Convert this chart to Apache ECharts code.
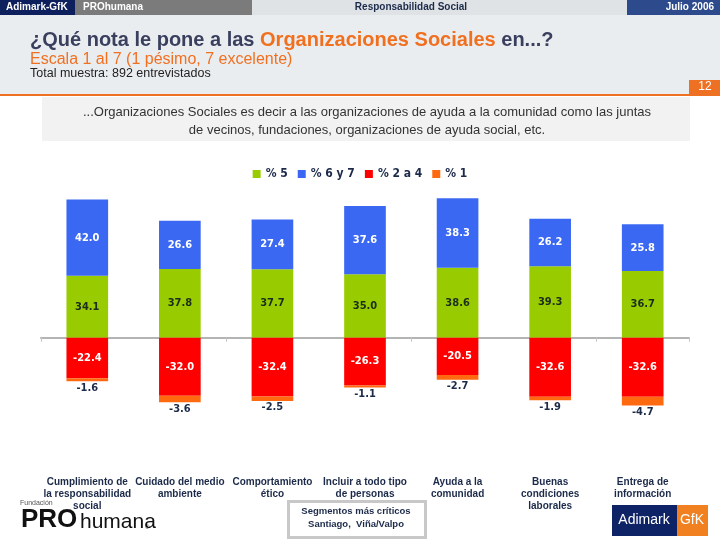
<!DOCTYPE html>
<html>
<head>
<meta charset="utf-8">
<script src="https://cdn.jsdelivr.net/npm/echarts@6/dist/echarts.min.js"></script>
<style>html,body{margin:0;padding:0;background:#fff}#c{width:720px;height:540px}</style>
</head>
<body>
<div id="c"></div>
<script>
var categories = [
  "Cumplimiento de\nla responsabilidad\nsocial",
  "Cuidado del medio\nambiente",
  "Comportamiento\nético",
  "Incluir a todo tipo\nde personas",
  "Ayuda a la\ncomunidad",
  "Buenas\ncondiciones\nlaborales",
  "Entrega de\ninformación"
];
var seriesNames = ["% 5", "% 6 y 7", "% 2 a 4", "% 1"];
var pct5 = [34.1, 37.8, 37.7, 35.0, 38.6, 39.3, 36.7];
var pct6y7 = [42.0, 26.6, 27.4, 37.6, 38.3, 26.2, 25.8];
var pct2a4 = [-22.4, -32.0, -32.4, -26.3, -20.5, -32.6, -32.6];
var pct1 = [-1.6, -3.6, -2.5, -1.1, -2.7, -1.9, -4.7];

var NAVY = '#1c2a4a';
var FONT = 'Liberation Sans, Arial, sans-serif';
var chart = echarts.init(document.getElementById('c'), null, {renderer: 'canvas'});

function lbl(color, pos, dist) {
  return {show: true, position: pos, distance: dist || 0, color: color, fontSize: 11, fontWeight: 'bold',
          fontFamily: 'DejaVu Sans Condensed, DejaVu Sans, sans-serif',
          formatter: function (p) { return p.value.toFixed(1); }};
}

var option = {
  animation: false,
  backgroundColor: '#ffffff',
  textStyle: {fontFamily: FONT},
  legend: {
    data: seriesNames, top: 163, left: 'center', icon: 'rect', itemWidth: 8, itemHeight: 8, itemGap: 10,
    textStyle: {color: NAVY, fontSize: 12, fontWeight: 'bold', fontFamily: 'DejaVu Sans Condensed, DejaVu Sans, sans-serif'}
  },
  grid: {left: 41, width: 648, top: 192.5, height: 217.8, containLabel: false, outerBoundsMode: 'none'},
  xAxis: [{
    type: 'category', data: categories,
    axisLine: {onZero: true, lineStyle: {color: '#b4b4b4', width: 2}},
    axisTick: {show: true, length: 4, lineStyle: {color: '#c4c4c4'}},
    axisLabel: {show: false}
  }, {
    type: 'category', data: categories, position: 'bottom', gridIndex: 0,
    axisLine: {show: false, onZero: false}, axisTick: {show: false},
    axisLabel: {show: true, interval: 0, margin: 66, color: NAVY, fontSize: 10, fontWeight: 'bold', lineHeight: 12,
                fontFamily: FONT, hideOverlap: false}
  }],
  yAxis: {type: 'value', min: -40, max: 80, show: false, splitLine: {show: false}},
  series: [
    {name: seriesNames[0], type: 'bar', stack: 's', data: pct5, barWidth: '45%',
     itemStyle: {color: '#99cc00'}, label: lbl('#1b2e1b', 'inside')},
    {name: seriesNames[1], type: 'bar', stack: 's', data: pct6y7, barWidth: '45%',
     itemStyle: {color: '#3b68f2'}, label: lbl('#ffffff', 'inside')},
    {name: seriesNames[2], type: 'bar', stack: 's', data: pct2a4, barWidth: '45%',
     itemStyle: {color: '#ff0000'}, label: lbl('#ffffff', 'inside')},
    {name: seriesNames[3], type: 'bar', stack: 's', data: pct1, barWidth: '45%',
     itemStyle: {color: '#ff6a10'}, label: lbl(NAVY, 'bottom', 1)}
  ],
  graphic: [
    {type: 'rect', left: 0, top: 15, shape: {width: 720, height: 80}, style: {fill: '#eaedf0'}, z: -10},
    {type: 'rect', left: 0, top: 0, shape: {width: 75, height: 15}, style: {fill: '#0d1f5c'}},
    {type: 'rect', left: 75, top: 0, shape: {width: 177, height: 15}, style: {fill: '#7b7b7b'}},
    {type: 'rect', left: 252, top: 0, shape: {width: 375, height: 15}, style: {fill: '#dfe3e6'}},
    {type: 'rect', left: 627, top: 0, shape: {width: 93, height: 15}, style: {fill: '#2c4a8c'}},
    {type: 'text', left: 6, top: 2, style: {text: 'Adimark-GfK', fill: '#fff', font: 'bold 10px ' + FONT}},
    {type: 'text', left: 83, top: 2, style: {text: 'PROhumana', fill: '#fff', font: 'bold 10px ' + FONT}},
    {type: 'text', x: 411, y: 2, style: {text: 'Responsabilidad Social', fill: '#1c2a4a', font: 'bold 10px ' + FONT, textAlign: 'center'}},
    {type: 'text', x: 714, y: 2, style: {text: 'Julio 2006', fill: '#fff', font: 'bold 10px ' + FONT, textAlign: 'right'}},
    {type: 'text', left: 30, top: 30, style: {
      text: '{a|¿Qué nota le pone a las }{b|Organizaciones Sociales}{a| en...?}',
      rich: {a: {fill: '#3a3f5e', font: 'bold 20px ' + FONT}, b: {fill: '#f07020', font: 'bold 20px ' + FONT}}}},
    {type: 'text', left: 30, top: 52, style: {text: 'Escala 1 al 7 (1 pésimo, 7 excelente)', fill: '#f07020', font: '16px ' + FONT}},
    {type: 'text', left: 30, top: 67, style: {text: 'Total muestra: 892 entrevistados', fill: '#222', font: '12.5px ' + FONT}},
    {type: 'rect', left: 0, top: 94, shape: {width: 720, height: 2}, style: {fill: '#ee7022'}},
    {type: 'rect', left: 689, top: 80, shape: {width: 31, height: 15}, style: {fill: '#ee7022'}},
    {type: 'text', x: 705, y: 81, style: {text: '12', fill: '#fff', font: '12px ' + FONT, textAlign: 'center'}},
    {type: 'rect', left: 42, top: 97, shape: {width: 648, height: 44}, style: {fill: '#f2f2f2'}},
    {type: 'text', x: 367, y: 103, style: {
      text: '...Organizaciones Sociales es decir a las organizaciones de ayuda a la comunidad como las juntas\nde vecinos, fundaciones, organizaciones de ayuda social, etc.',
      fill: '#333', font: '13px ' + FONT, textAlign: 'center', lineHeight: 18}},
    {type: 'rect', left: 287, top: 500, shape: {width: 137, height: 36}, style: {fill: '#fff', stroke: '#c8c8c8', lineWidth: 3}},
    {type: 'text', x: 356, y: 505, style: {text: 'Segmentos más críticos\nSantiago,  Viña/Valpo', fill: NAVY,
      font: 'bold 9.5px ' + FONT, textAlign: 'center', lineHeight: 13}},
    {type: 'text', left: 20, top: 500, style: {text: 'Fundación', fill: '#555', font: '7px ' + FONT}},
    {type: 'text', left: 21, top: 507, style: {text: 'PRO', fill: '#111', font: '900 26px ' + FONT}},
    {type: 'text', left: 80, top: 512, style: {text: 'humana', fill: '#111', font: '21px ' + FONT}},
    {type: 'text', left: 145, top: 524, style: {text: '®', fill: '#111', font: '6px ' + FONT}},
    {type: 'rect', left: 612, top: 505, shape: {width: 65, height: 31}, style: {fill: '#0e2266'}},
    {type: 'rect', left: 677, top: 505, shape: {width: 31, height: 31}, style: {fill: '#f08020'}},
    {type: 'text', x: 644, y: 513, style: {text: 'Adimark', fill: '#fff', font: '14px ' + FONT, textAlign: 'center'}},
    {type: 'text', x: 692, y: 513, style: {text: 'GfK', fill: '#fff', font: '14px ' + FONT, textAlign: 'center'}}
  ]
};
chart.setOption(option);
</script>
</body>
</html>
